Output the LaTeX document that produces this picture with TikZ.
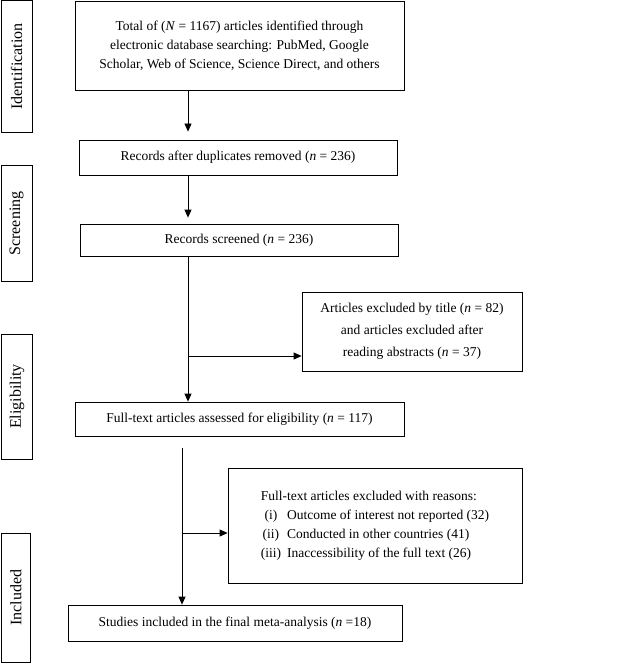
\documentclass[tikz,border=0pt]{standalone}
\usepackage{fontspec}
\setmainfont{Liberation Serif}
\usetikzlibrary{arrows.meta}
\begin{document}
\begin{tikzpicture}[x=1pt,y=-1pt,
  box/.style={draw, line width=0.8pt, align=center, inner sep=0pt, font=\fontsize{13.5}{19}\selectfont},
  side/.style={draw, line width=0.8pt, rotate=90, inner sep=0pt, font=\fontsize{16}{18}\selectfont},
  arr/.style={line width=0.8pt, -{Triangle[length=8pt,width=7pt]}}]
\useasboundingbox (0,0) rectangle (641,663);
% side labels
\node[side, minimum width=132pt, minimum height=31pt] (s1) at (16.5,66.5) {Identification};
\node[side, minimum width=116pt, minimum height=31pt] (s2) at (16.5,223.5) {Screening};
\node[side, minimum width=125pt, minimum height=31pt] (s3) at (17,396.5) {Eligibility};
\node[side, minimum width=129pt, minimum height=29pt] (s4) at (16,597.5) {Included};
% boxes
\node[box, minimum width=329pt, minimum height=89pt] (b1) at (239.5,45.5)
  {Total of (\textit{N} = 1167) articles identified through\\electronic database searching: PubMed, Google\\Scholar, Web of Science, Science Direct, and others};
\node[box, minimum width=318pt, minimum height=35pt] (b2) at (238,157.5)
  {Records after duplicates removed (\textit{n} = 236)};
\node[box, minimum width=318pt, minimum height=32pt] (b3) at (239,240)
  {Records screened (\textit{n} = 236)};
\node[box, minimum width=220pt, minimum height=79pt, font=\fontsize{13.5}{22}\selectfont] (b4) at (412,331.5)
  {Articles excluded by title (\textit{n} = 82)\\and articles excluded after\\reading abstracts (\textit{n} = 37)};
\node[box, minimum width=329pt, minimum height=34pt] (b5) at (239.5,419)
  {Full-text articles assessed for eligibility (\textit{n} = 117)};
\node[box, minimum width=294pt, minimum height=115pt] (b6) at (375,525.5)
  {\begin{tabular}{@{}c@{\hspace{6pt}}l@{}}
   \multicolumn{2}{@{}l@{}}{Full-text articles excluded with reasons:}\\
   (i) & Outcome of interest not reported (32)\\
   (ii) & Conducted in other countries (41)\\
   (iii) & Inaccessibility of the full text (26)
   \end{tabular}};
\node[box, minimum width=334pt, minimum height=36pt] (b7) at (235,623)
  {Studies included in the final meta-analysis (\textit{n} =18)};
% connectors
\coordinate (ax) at (188,0);
\coordinate (j1) at (188,356);
\coordinate (ax2) at (182,448);
\coordinate (j2) at (182,533);
\draw[arr, shorten >=8pt] (b1.south -| ax) -- (b2.north -| ax);
\draw[arr, shorten >=6pt] (b2.south -| ax) -- (b3.north -| ax);
\draw[arr] (b3.south -| ax) -- (b5.north -| ax);
\draw[arr] (j1) -- (j1 -| b4.west);
\draw[arr] (ax2) -- (ax2 |- b7.north);
\draw[arr] (j2) -- (j2 -| b6.west);
\end{tikzpicture}
\end{document}
